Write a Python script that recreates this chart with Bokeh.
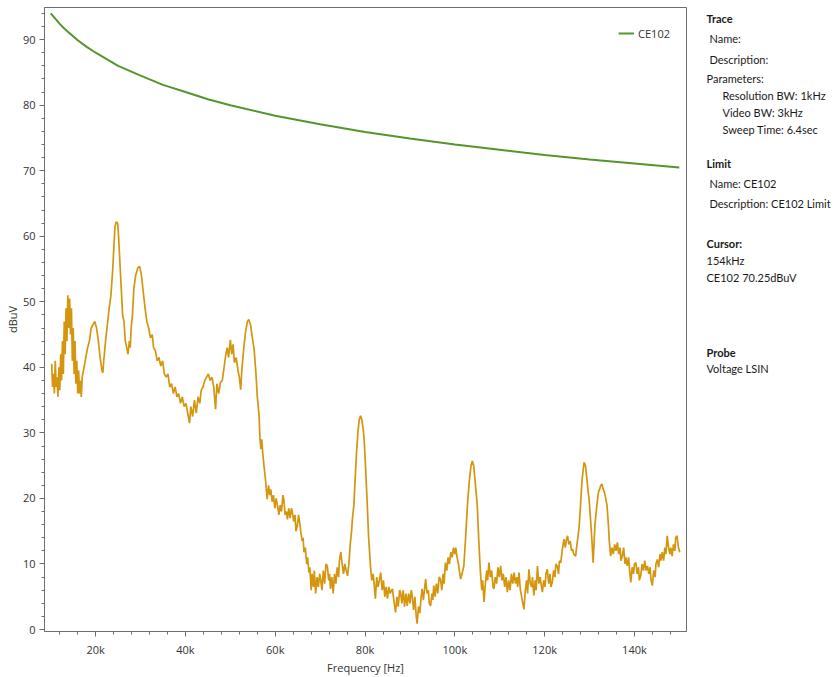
import numpy as np
from bokeh.plotting import figure
from bokeh.layouts import row
from bokeh.models import FixedTicker, Range1d, ColumnDataSource
from bokeh.core.properties import value
from bokeh.embed import file_html
from bokeh.resources import INLINE

# ---------------- data ----------------
limit_khz = [10, 11, 12, 13, 14, 16, 18, 20, 25, 30, 35, 40, 45, 50, 60, 70, 80,
             90, 100, 110, 120, 130, 140, 150]
limit_dbuv = [94.0, 93.2, 92.4, 91.7, 91.1, 89.9, 88.9, 88.0, 86.0, 84.5, 83.1, 82.0,
              80.9, 80.0, 78.4, 77.1, 75.9, 74.9, 74.0, 73.2, 72.4, 71.7, 71.1, 70.5]

seg_a_khz = [10.2, 10.4, 10.6, 10.8, 11.0, 11.2, 11.4, 11.6, 11.8, 12.0,
             12.2, 12.4, 12.6, 12.8, 13.0, 13.2, 13.4, 13.6, 13.8, 14.0,
             14.2, 14.4, 14.6, 14.8, 15.0, 15.2, 15.4, 15.6, 15.8, 16.0,
             16.2, 16.4, 16.6, 16.8]
seg_a_dbuv = [40.5, 37, 39, 36, 41, 37, 38.5, 35.5, 40, 36.5,
              42, 38, 44, 39, 47, 42, 49, 44, 51, 46,
              50.5, 45, 49, 41, 46, 39, 44, 37.5, 41, 36,
              39.5, 36, 38, 35.5]

seg_b_khz = [17.0, 17.4, 17.8, 18.2, 18.6, 19.0, 19.4, 19.8, 20.2, 20.6, 21.0, 21.4, 21.6, 21.8]
seg_b_dbuv = [38.5, 40, 41.5, 43, 44, 46, 46.5, 47, 46, 44, 41.5, 39.5, 39.2, 41]

seg_c_khz = [22.2, 22.6, 23.0, 23.4, 23.8, 24.1, 24.3, 24.6, 24.9, 25.1,
             25.4, 25.7, 26.0, 26.3, 26.6, 26.9, 27.2, 27.5, 27.7, 27.9,
             28.2, 28.5, 28.9, 29.4, 29.8, 30.2, 30.6, 31.0, 31.4, 31.8,
             32.2, 32.6, 32.9]
seg_c_dbuv = [44, 46.5, 49, 51, 55, 59, 61.5, 62.2, 62, 60,
              56, 52, 48, 47, 44, 43, 42, 44, 43, 46,
              48, 52, 54, 55.2, 55.4, 54, 51.5, 49, 47, 46,
              44.5, 45, 43]

seg_d_khz = [33.3, 33.7, 34.1, 34.5, 34.9, 35.3, 35.7, 36.1, 36.5, 36.9,
             37.3, 37.7, 38.1, 38.5, 38.9, 39.3, 39.7, 40.1, 40.5, 40.9,
             41.2, 41.6, 42.0, 42.4, 42.8, 43.2, 43.5, 43.9, 44.3, 44.7,
             45.1, 45.5, 45.9, 46.3]
seg_d_dbuv = [42.5, 41, 41.5, 40.2, 41, 39, 38.5, 39, 37, 37.5,
              36, 37, 35.5, 36, 34.5, 35.5, 34, 34.5, 33, 31.5,
              34, 32.5, 35, 33, 35.5, 34.5, 36.5, 37, 38, 38.5,
              39, 38, 38.5, 37]

seg_e_khz = [46.7, 47.0, 47.4, 47.8, 48.2, 48.6, 49.0, 49.3, 49.6, 50.0,
             50.3, 50.6, 50.9, 51.3, 51.7, 52.0, 52.3, 52.6, 53.0, 53.4,
             53.8, 54.1, 54.5, 54.9, 55.3, 55.7, 56.0, 56.4]
seg_e_dbuv = [33.6, 37.5, 36, 37.7, 38, 40, 42, 43, 41.5, 44.2,
              42, 43.5, 40.7, 41.5, 39.5, 38.5, 36.6, 40, 43, 45.5,
              47, 47.3, 46.5, 44.5, 42.7, 39, 35.5, 32.6]

seg_f_khz = [56.6, 56.8, 57.0, 57.2, 57.5, 57.8, 58.0, 58.2, 58.5, 58.8,
             59.0, 59.3, 59.6, 59.9, 60.2, 60.5, 60.8, 61.1, 61.4, 61.7,
             61.9, 62.2, 62.5, 62.7, 63.0, 63.3, 63.6, 63.8, 64.1, 64.4,
             64.6, 64.9, 65.2, 65.5, 65.7, 66.0, 66.2]
seg_f_dbuv = [29, 27.5, 29, 27, 24.9, 23, 21.5, 19.9, 22, 20.5,
              21.4, 19.5, 20.5, 18.5, 20, 18.9, 17.5, 19, 18, 20.5,
              19.9, 17.5, 18, 16.8, 18.5, 17, 18.5, 17.9, 16.5, 17.5,
              15, 15.8, 17.5, 16, 14.8, 13.5, 14]

seg_g_khz = [66.4, 66.7, 67.0, 67.2, 67.5, 67.7, 68.0, 68.2, 68.5, 68.7,
             69.0, 69.3, 69.6, 69.9, 70.1, 70.4, 70.7, 71.0, 71.3, 71.6,
             71.9, 72.1, 72.3, 72.6, 72.9, 73.2, 73.5, 73.8, 74.1, 74.3,
             74.6, 74.9, 75.2, 75.5, 75.8, 76.1, 76.4]
seg_g_dbuv = [11.8, 12.5, 10, 11, 8.7, 9.5, 6, 8.5, 6.5, 9,
              5.5, 8, 6.5, 8.5, 7.7, 6, 9, 7, 10, 9.7,
              7.5, 8.5, 6.2, 8, 5.5, 8.5, 7, 9.5, 8, 10.5,
              11.8, 10, 8.5, 10, 9, 8.2, 10]

seg_h_khz = [76.7, 77.0, 77.2, 77.5, 77.8, 78.1, 78.4, 78.7, 79.0, 79.3,
             79.6, 79.8, 80.1, 80.5, 80.8, 81.2]
seg_h_dbuv = [13, 15, 17, 18.9, 23, 27, 30, 32, 32.6, 32,
              30.5, 29, 25, 18.9, 14, 9.7]

seg_i_khz = [81.5, 81.8, 82.0, 82.3, 82.6, 82.9, 83.2, 83.5, 83.8, 84.1,
             84.4, 84.7, 85.0, 85.3, 85.6, 86.1, 86.4, 86.8, 87.1, 87.4,
             87.7, 87.9, 88.2, 88.5, 88.8, 89.1, 89.4, 89.7, 90.0, 90.3,
             90.5, 90.8, 91.1, 91.4, 91.6, 91.9, 92.2, 92.5, 92.7, 93.0,
             93.3, 93.5, 93.8, 94.1, 94.3, 94.6, 94.9, 95.1, 95.3, 95.6,
             95.9, 96.2, 96.5, 96.8, 97.1, 97.4, 97.6]
seg_i_dbuv = [7.5, 8.5, 7.2, 4.7, 8, 6.5, 7.5, 8.7, 6, 7.5,
              5, 6.5, 4.7, 6.5, 5.5, 6.2, 4.5, 2.6, 5, 3.5,
              6, 5.7, 4, 6, 3.5, 5.5, 3.6, 5.5, 4, 6,
              5.2, 3, 5, 2, 0.9, 3.5, 2.5, 5, 6.2, 4.5,
              6.5, 7.7, 5.5, 6, 4, 3.6, 5.5, 4.5, 6.7, 5,
              7, 5.5, 8, 7.7, 6, 8.5, 7]

seg_j_khz = [97.9, 98.2, 98.5, 98.8, 99.1, 99.4, 99.7, 100.0, 100.2, 100.5,
             100.8, 101.0, 101.3, 101.6, 102.0, 102.4, 102.8, 103.2, 103.6, 103.9,
             104.2, 104.6, 105.0, 105.3, 105.7, 106.0, 106.2]
seg_j_dbuv = [10.2, 9, 11, 10, 11.8, 11, 12.5, 11.5, 12.5, 11,
              10, 9, 7.7, 8.5, 9.7, 14, 18.9, 22.5, 25, 25.7,
              25, 22, 18.9, 14, 8.7, 6, 7.5]

seg_k_khz = [106.5, 106.8, 107.1, 107.3, 107.6, 107.9, 108.2, 108.5, 108.7, 109.0,
             109.3, 109.6, 109.9, 110.2, 110.5, 110.8, 111.1, 111.4, 111.7, 112.0,
             112.3, 112.6, 112.9, 113.2, 113.5, 113.8, 114.0, 114.3, 114.6, 114.7,
             115.0, 115.4, 115.7, 116.0, 116.2, 116.5, 116.8, 117.1, 117.3, 117.6,
             117.9, 118.1, 118.4, 118.7, 119.0, 119.3, 119.5, 119.8, 120.1, 120.3,
             120.6, 120.9, 121.2, 121.4, 121.7, 122.0, 122.3, 122.5, 122.8, 123.1,
             123.3, 123.6]
seg_k_dbuv = [4.2, 7, 9, 7.5, 10.2, 8, 9, 6.5, 6.2, 8,
              7, 9.5, 8, 9.7, 7.5, 8.5, 6.5, 8, 5.7, 7.5,
              6, 8.5, 7, 8.7, 7, 8, 6.5, 8.7, 6, 5.7,
              4.5, 3.1, 6, 7.5, 5.5, 9.2, 7, 6.5, 8, 5.2,
              7.5, 6, 9.7, 7, 8, 6.5, 5.7, 7.5, 6.5, 8.5,
              9.2, 7, 8.5, 6.5, 7.2, 9, 8, 10, 9.7, 8.5,
              10.5, 10.2]

seg_l_khz = [123.9, 124.3, 124.6, 124.8, 125.1, 125.4, 125.7, 126.0, 126.2, 126.5,
             126.9, 127.2, 127.4, 127.7, 128.0, 128.3, 128.6, 128.8, 129.1, 129.4,
             129.7, 129.9, 130.2, 130.5, 130.8, 131.0, 131.2, 131.5, 131.7, 132.0,
             132.3, 132.5, 132.8, 133.0, 133.3, 133.6, 133.9, 134.2, 134.4, 134.7]
seg_l_dbuv = [12, 13.8, 12.5, 13.5, 14.3, 13, 13.5, 12, 12.3, 11.5,
              11.2, 13, 14, 15.8, 19, 22.5, 24.5, 25.5, 25, 23,
              21, 19.9, 17, 14, 10.2, 13, 16, 18, 19.4, 21,
              21.5, 22, 22.2, 21.5, 21, 20, 18.9, 16, 13.5, 11.2]

seg_m_khz = [135.0, 135.3, 135.6, 135.9, 136.2, 136.5, 136.8, 137.0, 137.3, 137.6,
             137.9, 138.1, 138.4, 138.7, 139.0, 139.2, 139.5, 139.8, 140.0, 140.3,
             140.6, 140.9, 141.1, 141.4, 141.7, 142.0, 142.3, 142.6, 142.9, 143.2,
             143.5, 143.7, 144.0, 144.3, 144.6, 144.8, 145.1, 145.4, 145.7, 145.9,
             146.2, 146.5, 146.8, 147.0, 147.3, 147.6, 147.9, 148.1, 148.4, 148.7,
             149.0, 149.2, 149.5, 149.8, 150.1]
seg_m_dbuv = [12.5, 11.5, 13, 12, 13.3, 11.5, 12.5, 10.5, 11.2, 12.5,
              10, 11, 9.7, 11, 8.5, 7.2, 9.5, 8.5, 10, 10.2,
              8.5, 9.5, 7.5, 8.2, 10, 9, 10.5, 9, 9.7, 8.5,
              9.5, 7.5, 6.7, 9, 8, 10, 10.7, 9.5, 11.5, 10.5,
              11.8, 10.5, 12.5, 11.5, 14.3, 12.5, 11.5, 12.5, 11.2, 13,
              12, 14, 14.3, 12.5, 11.8]

x_tick_khz = [20, 40, 60, 80, 100, 120, 140]
x_tick_labels = ["20k", "40k", "60k", "80k", "100k", "120k", "140k"]
y_ticks = [0, 10, 20, 30, 40, 50, 60, 70, 80, 90]

info_text = ["Trace", "Name:", "Description:", "Parameters:", "Resolution BW: 1kHz",
             "Video BW: 3kHz", "Sweep Time: 6.4sec", "Limit", "Name: CE102",
             "Description: CE102 Limit", "Cursor:", "154kHz", "CE102 70.25dBuV",
             "Probe", "Voltage LSIN"]
info_bold = [True, False, False, False, False, False, False, True, False,
             False, True, False, False, True, False]
# layout of the side panel (pixel positions in the page)
info_x = [6, 9, 9, 6, 22, 22, 22, 6, 9, 9, 6, 6, 6, 6, 6]
info_y = [18, 38, 59, 78, 95, 112, 129, 164, 184, 204, 244, 261, 278, 353, 369]

# ---------------- assemble ----------------
seg_khz = [seg_a_khz, seg_b_khz, seg_c_khz, seg_d_khz, seg_e_khz, seg_f_khz, seg_g_khz,
           seg_h_khz, seg_i_khz, seg_j_khz, seg_k_khz, seg_l_khz, seg_m_khz]
seg_db = [seg_a_dbuv, seg_b_dbuv, seg_c_dbuv, seg_d_dbuv, seg_e_dbuv, seg_f_dbuv, seg_g_dbuv,
          seg_h_dbuv, seg_i_dbuv, seg_j_dbuv, seg_k_dbuv, seg_l_dbuv, seg_m_dbuv]
trace_hz = []
trace_db = []
for fk, dv in zip(seg_khz, seg_db):
    n = min(len(fk), len(dv))
    trace_hz += [f * 1000.0 for f in fk[:n]]
    trace_db += list(dv[:n])

FONT = "Open Sans"
PFONT = "Lato"
AXC = "#6e6e6e"
TXT = "#333333"
W, H = 835, 677
MAIN_W = 700
TOP, BOTTOM = 7, 44

p = figure(width=MAIN_W, height=H, output_backend="svg", toolbar_location=None,
           x_range=Range1d(8600, 151600), y_range=Range1d(-0.3, 94.9),
           min_border_left=44, min_border_right=14, min_border_top=TOP,
           min_border_bottom=BOTTOM)
p.background_fill_color = "white"
p.border_fill_color = "white"
p.outline_line_color = AXC
p.outline_line_width = 1
p.xgrid.visible = False
p.ygrid.visible = False

p.line(trace_hz, trace_db, line_color="#d4960f", line_width=1.7)
p.line([k * 1000.0 for k in limit_khz], limit_dbuv, line_color="#55952c", line_width=2,
       legend_label="CE102")

p.xaxis.ticker = FixedTicker(ticks=[k * 1000 for k in x_tick_khz],
                             minor_ticks=[k * 1000 for k in range(12, 152, 4)])
p.xaxis.major_label_overrides = {k * 1000: lab for k, lab in zip(x_tick_khz, x_tick_labels)}
p.yaxis.ticker = FixedTicker(ticks=y_ticks, minor_ticks=list(range(0, 96, 2)))

for ax in (p.xaxis[0], p.yaxis[0]):
    ax.axis_line_color = AXC
    ax.major_tick_line_color = AXC
    ax.minor_tick_line_color = AXC
    ax.major_tick_in = 0
    ax.major_tick_out = 5
    ax.minor_tick_in = 0
    ax.minor_tick_out = 3
    ax.major_label_text_font = FONT
    ax.major_label_text_font_size = "11px"
    ax.major_label_text_color = TXT
    ax.axis_label_text_font = FONT
    ax.axis_label_text_font_size = "11px"
    ax.axis_label_text_font_style = "normal"
    ax.axis_label_text_color = TXT

p.xaxis.axis_label = "Frequency [Hz]"
p.xaxis.major_label_standoff = 5
p.xaxis.axis_label_standoff = 0
p.yaxis.axis_label = "dBuV"
p.yaxis.major_label_standoff = 4
p.yaxis.axis_label_standoff = 0

lg = p.legend[0]
lg.location = "top_right"
lg.margin = 6
lg.padding = 10
lg.spacing = 0
lg.border_line_alpha = 0
lg.background_fill_alpha = 1
lg.glyph_width = 16
lg.glyph_height = 20
lg.label_standoff = 4
lg.label_text_font = FONT
lg.label_text_font_size = "11px"
lg.label_text_color = TXT

# ---------------- side info panel ----------------
# its frame spans the same rows as the main frame; y range maps page pixels
side = figure(width=W - MAIN_W, height=H, output_backend="svg", toolbar_location=None,
              x_range=Range1d(0, W - MAIN_W), y_range=Range1d(H - BOTTOM, TOP),
              min_border_left=0, min_border_right=0, min_border_top=TOP,
              min_border_bottom=BOTTOM, outline_line_color=None)
side.axis.visible = False
side.grid.visible = False
side.background_fill_color = "white"
side.border_fill_color = "white"

bold_idx = [i for i, b in enumerate(info_bold) if b]
norm_idx = [i for i, b in enumerate(info_bold) if not b]
for idx, style in ((bold_idx, "bold"), (norm_idx, "normal")):
    src = ColumnDataSource(dict(x=[info_x[i] for i in idx], y=[info_y[i] for i in idx],
                                t=[info_text[i] for i in idx]))
    side.text(x="x", y="y", text="t", source=src, text_font=value(PFONT),
              text_font_size="11px", text_baseline="middle", text_align="left",
              text_color="#1a1a1a", text_font_style=style)

layout = row(p, side, spacing=0)
open("out.html", "w").write(file_html(layout, INLINE))
